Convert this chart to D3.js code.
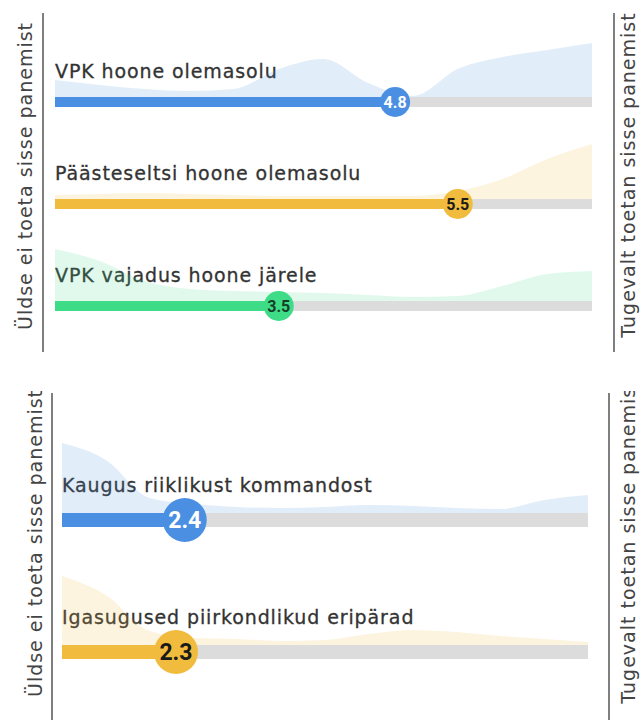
<!DOCTYPE html>
<html>
<head>
<meta charset="utf-8">
<script src="https://cdn.jsdelivr.net/npm/d3@7"></script>
<style>
  body { margin: 0; background: #fff; }
  svg { display: block; }
  .item-label { font-family: "DejaVu Sans", sans-serif; fill: #333; stroke: #333; stroke-width: 0.3px; letter-spacing: 0.9px; }
  .side-label { font-family: "DejaVu Sans", sans-serif; fill: #444; letter-spacing: 1px; }
  .mean-label { font-family: "Liberation Sans Narrow", "Roboto", sans-serif; font-weight: bold; }
</style>
</head>
<body>
<div id="chart"></div>
<script>
// scale points of the answer scale (1 = not at all, 7 = strongly)
var scalePoints = [1, 1.5, 2, 2.5, 3, 3.5, 4, 4.5, 5, 5.5, 6, 6.5, 7];

// top panel
var topLabels = ["VPK hoone olemasolu", "Päästeseltsi hoone olemasolu", "VPK vajadus hoone järele"];
var topMeans = [4.8, 5.5, 3.5];
var topColors = ["blue", "yellow", "green"];
var densityVpkHoone = [0.17, 0.12, 0.08, 0.06, 0.08, 0.28, 0.38, 0.14, 0.01, 0.28, 0.40, 0.47, 0.54];
var densityPaasteselts = [0.04, 0.05, 0.06, 0.05, 0.04, 0.03, 0.03, 0.03, 0.03, 0.08, 0.20, 0.40, 0.55];
var densityVajadus = [0.52, 0.40, 0.20, 0.12, 0.10, 0.09, 0.08, 0.06, 0.04, 0.05, 0.15, 0.27, 0.30];

// bottom panel
var bottomLabels = ["Kaugus riiklikust kommandost", "Igasugused piirkondlikud eripärad"];
var bottomMeans = [2.4, 2.3];
var bottomColors = ["blue", "yellow"];
var densityKaugus = [0.70, 0.53, 0.15, 0.09, 0.06, 0.05, 0.06, 0.08, 0.07, 0.05, 0.04, 0.13, 0.18];
var densityEriparad = [0.69, 0.50, 0.14, 0.07, 0.06, 0.04, 0.05, 0.11, 0.15, 0.13, 0.09, 0.06, 0.03];

var leftText = "Üldse ei toeta sisse panemist";
var rightText = "Tugevalt toetan sisse panemist";

var palette = {
    blue:   { bar: "#4a8fe2", area: "#4a8fe2", text: "#ffffff" },
    yellow: { bar: "#f1bb3d", area: "#f1bb3d", text: "#1a1a1a" },
    green:  { bar: "#3edc86", area: "#3edc86", text: "#163d27" }
};

var width = 643, height = 720;

var svg = d3.select("#chart").append("svg")
    .attr("width", width)
    .attr("height", height);

svg.append("defs").append("clipPath")
    .attr("id", "bottom-clip")
    .append("rect")
    .attr("x", 0).attr("y", 391)
    .attr("width", width).attr("height", height - 391);

function draw_panel(g, opt) {
    var xScale = d3.scaleLinear().domain([1, 7]).range([opt.x0, opt.x1]);
    var hScale = d3.scaleLinear().domain([0, 1]).range([0, 100]);

    // side rules and their captions
    g.append("line")
        .attr("x1", opt.leftRule).attr("x2", opt.leftRule)
        .attr("y1", opt.ruleTop).attr("y2", opt.ruleBottom)
        .attr("stroke", "#555").attr("stroke-width", 1.5);
    g.append("line")
        .attr("x1", opt.rightRule).attr("x2", opt.rightRule)
        .attr("y1", opt.ruleTop).attr("y2", opt.ruleBottom)
        .attr("stroke", "#555").attr("stroke-width", 1.5);

    g.append("text")
        .attr("class", "side-label")
        .attr("transform", "translate(" + opt.leftLabelX + "," + opt.labelMid + ") rotate(-90)")
        .attr("text-anchor", "middle")
        .attr("dy", "0.35em")
        .attr("font-size", "19px")
        .text(leftText);
    g.append("text")
        .attr("class", "side-label")
        .attr("transform", "translate(" + opt.rightLabelX + "," + opt.rightLabelMid + ") rotate(-90)")
        .attr("text-anchor", "middle")
        .attr("dy", "0.35em")
        .attr("font-size", "19px")
        .text(rightText);

    opt.labels.forEach(function(label, i) {
        var cy = opt.firstBar + i * opt.step;
        var col = palette[opt.colors[i]];
        var barTop = cy - opt.barH / 2;

        g.append("text")
            .attr("class", "item-label")
            .attr("x", opt.x0)
            .attr("y", cy - opt.textGap)
            .attr("font-size", opt.textSize)
            .text(label);

        // answer distribution behind the bar
        var area = d3.area()
            .x(function(d, j) { return xScale(scalePoints[j]); })
            .y0(cy)
            .y1(function(d) { return barTop - hScale(d); })
            .curve(d3.curveMonotoneX);

        g.append("path")
            .datum(opt.densities[i])
            .attr("d", area)
            .attr("fill", col.area)
            .attr("fill-opacity", 0.16);

        // track + value bar
        g.append("rect")
            .attr("x", xScale(1))
            .attr("y", barTop)
            .attr("width", xScale(7) - xScale(1))
            .attr("height", opt.barH)
            .attr("fill", "#dcdcdc");
        g.append("rect")
            .attr("x", xScale(1))
            .attr("y", barTop)
            .attr("width", xScale(opt.means[i]) - xScale(1))
            .attr("height", opt.barH)
            .attr("fill", col.bar);

        g.append("circle")
            .attr("cx", xScale(opt.means[i]))
            .attr("cy", cy)
            .attr("r", opt.r)
            .attr("fill", col.bar);
        g.append("text")
            .attr("class", "mean-label")
            .attr("x", xScale(opt.means[i]))
            .attr("y", cy)
            .attr("dy", "0.36em")
            .attr("text-anchor", "middle")
            .attr("font-size", opt.meanSize)
            .attr("fill", col.text)
            .text(opt.means[i].toFixed(1));
    });
}

draw_panel(svg.append("g"), {
    labels: topLabels, means: topMeans, colors: topColors,
    densities: [densityVpkHoone, densityPaasteselts, densityVajadus],
    x0: 55, x1: 592, firstBar: 102, step: 102, barH: 10, r: 15,
    textGap: 24, textSize: "19px", meanSize: "16px",
    leftRule: 43, rightRule: 614, ruleTop: 13, ruleBottom: 352,
    leftLabelX: 25, rightLabelX: 628, labelMid: 176, rightLabelMid: 175
});

draw_panel(svg.append("g").attr("clip-path", "url(#bottom-clip)"), {
    labels: bottomLabels, means: bottomMeans, colors: bottomColors,
    densities: [densityKaugus, densityEriparad],
    x0: 62, x1: 588, firstBar: 520, step: 132, barH: 14, r: 22,
    textGap: 28, textSize: "19px", meanSize: "23px",
    leftRule: 52, rightRule: 609, ruleTop: 393, ruleBottom: 720,
    leftLabelX: 35, rightLabelX: 628, labelMid: 543, rightLabelMid: 541
});
</script>
</body>
</html>
